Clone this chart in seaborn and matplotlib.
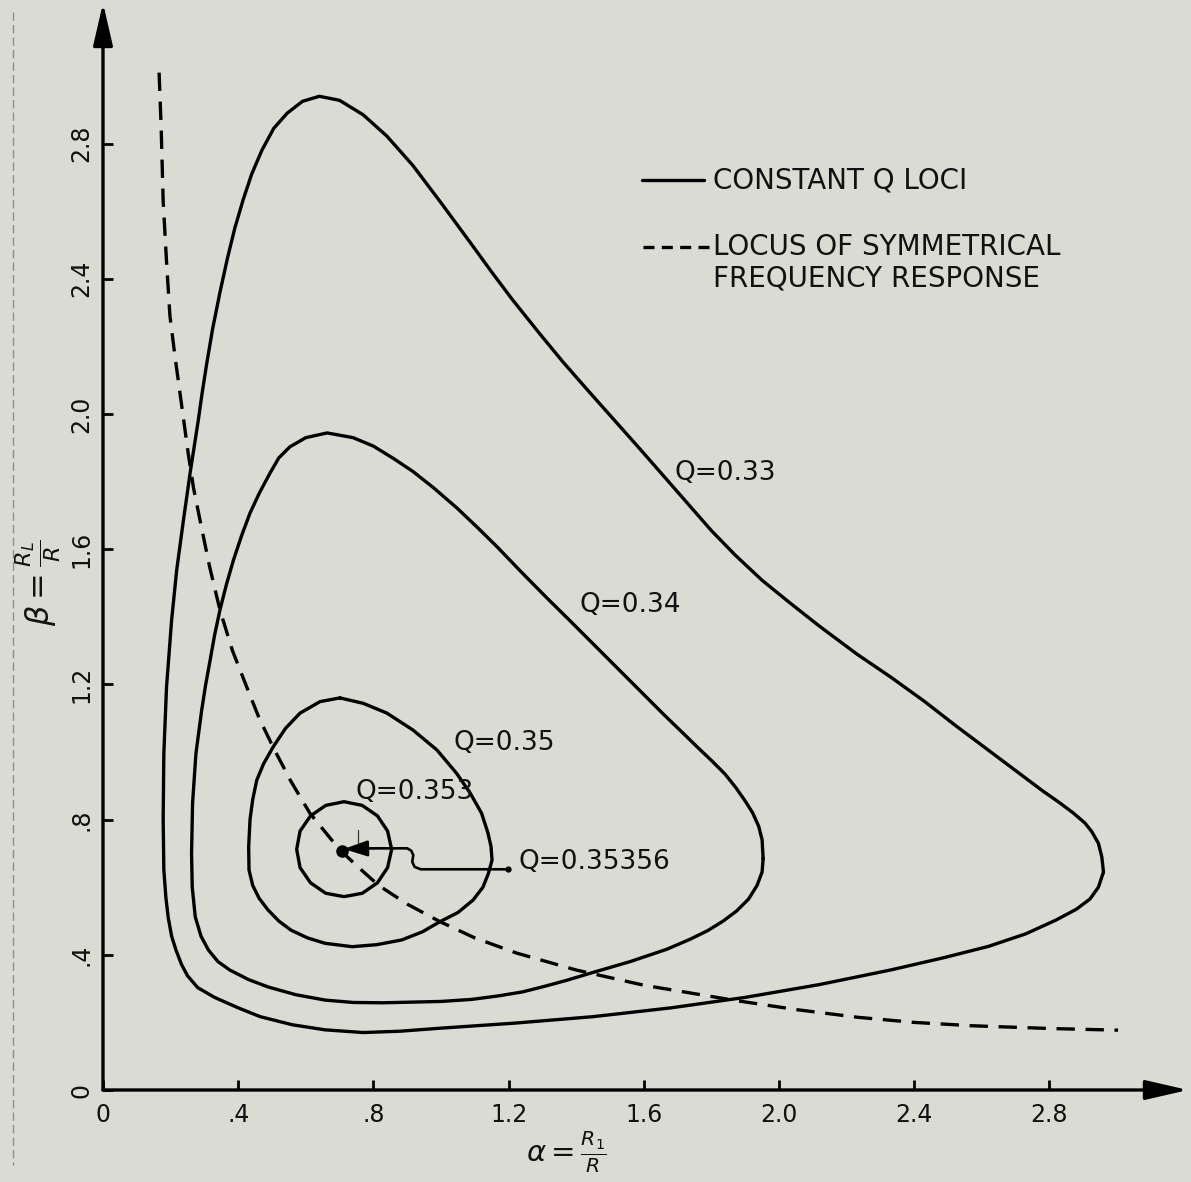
import numpy as np
import pandas as pd
import matplotlib
matplotlib.use("Agg")
import matplotlib.pyplot as plt
import seaborn as sns
from matplotlib.lines import Line2D

# ---------------- data ----------------
q033_alpha = [2.96, 2.955, 2.945, 2.925, 2.905, 2.87, 2.83, 2.78, 2.70, 2.62, 2.52, 2.43, 2.33, 2.23,
              2.12, 2.03, 1.95, 1.87, 1.80, 1.73, 1.66, 1.59, 1.51, 1.43, 1.36, 1.29, 1.21, 1.15,
              1.086, 1.00, 0.917, 0.84, 0.77, 0.70, 0.64, 0.59, 0.545, 0.505, 0.47, 0.44, 0.415,
              0.39, 0.368, 0.346, 0.324, 0.307, 0.293, 0.282, 0.259, 0.238, 0.218, 0.203, 0.188,
              0.180, 0.178, 0.18, 0.186, 0.193, 0.203, 0.216, 0.232, 0.25, 0.28, 0.33, 0.40, 0.465,
              0.56, 0.657, 0.77, 0.88, 1.00, 1.22, 1.45, 1.68, 1.90, 2.12, 2.33, 2.49, 2.62, 2.73,
              2.82, 2.88, 2.92, 2.945, 2.96]
q033_beta = [0.645, 0.69, 0.73, 0.765, 0.79, 0.82, 0.85, 0.885, 0.945, 1.005, 1.08, 1.15, 1.222, 1.29,
             1.372, 1.443, 1.508, 1.583, 1.655, 1.735, 1.815, 1.895, 1.985, 2.075, 2.155, 2.24, 2.34,
             2.42, 2.508, 2.625, 2.735, 2.822, 2.885, 2.928, 2.94, 2.925, 2.89, 2.845, 2.78, 2.71,
             2.635, 2.55, 2.46, 2.36, 2.25, 2.15, 2.06, 1.982, 1.834, 1.686, 1.538, 1.39, 1.193,
             0.996, 0.80, 0.651, 0.57, 0.51, 0.455, 0.414, 0.372, 0.338, 0.303, 0.274, 0.243, 0.217,
             0.193, 0.178, 0.170, 0.174, 0.183, 0.198, 0.217, 0.243, 0.274, 0.312, 0.355, 0.392,
             0.425, 0.462, 0.503, 0.535, 0.565, 0.60, 0.645]

q034_alpha = [1.953, 1.95, 1.94, 1.922, 1.90, 1.872, 1.84, 1.80, 1.76, 1.72, 1.66, 1.59, 1.52, 1.45,
              1.38, 1.314, 1.24, 1.166, 1.105, 1.047, 0.98, 0.917, 0.86, 0.80, 0.74, 0.663, 0.60,
              0.553, 0.52, 0.494, 0.462, 0.435, 0.41, 0.386, 0.365, 0.346, 0.33, 0.317, 0.303, 0.292,
              0.275, 0.265, 0.262, 0.264, 0.273, 0.29, 0.312, 0.34, 0.375, 0.43, 0.488, 0.57, 0.657,
              0.74, 0.827, 1.00, 1.09, 1.167, 1.24, 1.30, 1.37, 1.44, 1.56, 1.667, 1.737, 1.79,
              1.835, 1.875, 1.91, 1.935, 1.95, 1.953]
q034_beta = [0.685, 0.74, 0.78, 0.82, 0.855, 0.895, 0.935, 0.975, 1.013, 1.052, 1.11, 1.18, 1.25,
             1.32, 1.39, 1.455, 1.53, 1.607, 1.667, 1.722, 1.78, 1.83, 1.868, 1.905, 1.93, 1.944,
             1.93, 1.903, 1.87, 1.825, 1.765, 1.707, 1.64, 1.568, 1.495, 1.42, 1.345, 1.272, 1.195,
             1.124, 0.996, 0.849, 0.70, 0.60, 0.512, 0.455, 0.414, 0.38, 0.355, 0.327, 0.305, 0.282,
             0.266, 0.259, 0.258, 0.262, 0.268, 0.278, 0.29, 0.305, 0.324, 0.345, 0.38, 0.416,
             0.446, 0.472, 0.50, 0.53, 0.565, 0.605, 0.645, 0.685]

q035_alpha = [0.701, 0.642, 0.583, 0.54, 0.504, 0.475, 0.455, 0.443, 0.435, 0.431, 0.432, 0.443,
              0.462, 0.488, 0.52, 0.556, 0.605, 0.657, 0.737, 0.81, 0.884, 0.945, 0.997, 1.05, 1.095,
              1.124, 1.14, 1.151, 1.148, 1.139, 1.12, 1.086, 1.046, 0.988, 0.917, 0.84, 0.77, 0.701]
q035_beta = [1.160, 1.149, 1.115, 1.07, 1.016, 0.965, 0.917, 0.86, 0.80, 0.72, 0.651, 0.605,
             0.567, 0.533, 0.50, 0.473, 0.45, 0.434, 0.424, 0.43, 0.444, 0.468, 0.498, 0.525, 0.562,
             0.60, 0.64, 0.68, 0.72, 0.76, 0.819, 0.879, 0.937, 1.006, 1.065, 1.115, 1.144, 1.160]

q0353_alpha = [0.854, 0.842, 0.812, 0.767, 0.713, 0.659, 0.614, 0.583, 0.573, 0.583, 0.614, 0.659,
               0.713, 0.767, 0.812, 0.842, 0.854]
q0353_beta = [0.712, 0.766, 0.811, 0.842, 0.853, 0.842, 0.811, 0.766, 0.712, 0.658, 0.613, 0.582,
              0.572, 0.582, 0.613, 0.658, 0.712]

sym_alpha = [0.166, 0.172, 0.178, 0.188, 0.198, 0.213, 0.228, 0.252, 0.268, 0.287, 0.315, 0.346, 0.383,
             0.425, 0.462, 0.504, 0.555, 0.612, 0.66, 0.701, 0.76, 0.816, 0.90, 0.997, 1.10, 1.224,
             1.40, 1.60, 1.87, 2.05, 2.234, 2.40, 2.573, 2.80, 3.003]
sym_beta = [3.01, 2.85, 2.63, 2.45, 2.29, 2.17, 2.06, 1.884, 1.78, 1.686, 1.55, 1.42, 1.30,
            1.193, 1.10, 1.013, 0.915, 0.819, 0.76, 0.71, 0.655, 0.605, 0.55, 0.498, 0.45, 0.405,
            0.355, 0.31, 0.265, 0.238, 0.215, 0.20, 0.19, 0.182, 0.177]

# peak point Q = 0.35356 and its leader line
peak_alpha = [0.707]
peak_beta = [0.707]
leader_alpha = [1.199, 0.94, 0.922, 0.915, 0.918, 0.912, 0.90, 0.80]
leader_beta = [0.653, 0.653, 0.66, 0.675, 0.695, 0.708, 0.715, 0.715]

curve_names = ["Q=0.33", "Q=0.34", "Q=0.35", "Q=0.353"]
label_text = ["Q=0.33", "Q=0.34", "Q=0.35", "Q=0.353", "Q=0.35356"]
label_alpha = [1.692, 1.411, 1.036, 0.746, 1.228]
label_beta = [1.825, 1.435, 1.027, 0.882, 0.675]

tick_vals = [0, 0.4, 0.8, 1.2, 1.6, 2.0, 2.4, 2.8]
tick_labels = ["0", ".4", ".8", "1.2", "1.6", "2.0", "2.4", "2.8"]

# ---------------- figure ----------------
sns.set_theme(style="white")
plt.rcParams["font.family"] = ["DejaVu Sans"]
plt.rcParams["mathtext.fontset"] = "dejavusans"
BG = "#dadcd3"
INK = "#111111"
W, H = 1191, 1182

fig = plt.figure(figsize=(W / 100, H / 100), dpi=100, facecolor=BG)
ax = fig.add_axes([103 / W, 92 / H, 3.21 * 338 / W, 3.2 * 338 / H])
ax.set_facecolor(BG)
ax.set_xlim(0, 3.21)
ax.set_ylim(0, 3.2)

frames = []
for name, xs, ys in zip(curve_names,
                        [q033_alpha, q034_alpha, q035_alpha, q0353_alpha],
                        [q033_beta, q034_beta, q035_beta, q0353_beta]):
    frames.append(pd.DataFrame({"alpha": xs, "beta": ys, "curve": name}))
loci = pd.concat(frames, ignore_index=True)

sns.lineplot(data=loci, x="alpha", y="beta", units="curve", estimator=None, sort=False,
             color="black", lw=2.4, ax=ax, legend=False, solid_joinstyle="round",
             solid_capstyle="round")
sns.lineplot(x=sym_alpha, y=sym_beta, sort=False, estimator=None, color="black", lw=2.4,
             linestyle=(0, (5.5, 3.2)), ax=ax)

# peak point and leader
ax.plot(leader_alpha, leader_beta, color="black", lw=1.9, solid_joinstyle="round")
ax.annotate("", xy=(peak_alpha[0] + 0.005, 0.713), xytext=(leader_alpha[-1], leader_beta[-1]),
            arrowprops=dict(arrowstyle="-|>,head_length=0.9,head_width=0.3", lw=1.9,
                            color="black", mutation_scale=16, shrinkA=0, shrinkB=0))
ax.plot(peak_alpha, peak_beta, "o", color="black", ms=8)
ax.plot([leader_alpha[0]], [leader_beta[0]], "o", color="black", ms=3.5)
ax.plot([0.754, 0.754], [0.722, 0.77], color="#333333", lw=0.9)

for t, xa, yb in zip(label_text, label_alpha, label_beta):
    ax.text(xa, yb, t, ha="left", va="center", fontsize=19, color=INK)

# axes with arrows
for s in ax.spines.values():
    s.set_visible(False)
arrow_kw = dict(arrowstyle="-|>,head_length=1.3,head_width=0.3", lw=2.4, color="black",
                mutation_scale=20, shrinkA=0, shrinkB=0)
ax.annotate("", xy=(1, 0), xycoords="axes fraction", xytext=(0, 0), textcoords="axes fraction",
            arrowprops=arrow_kw, annotation_clip=False)
ax.annotate("", xy=(0, 1.005), xycoords="axes fraction", xytext=(0, 0), textcoords="axes fraction",
            arrowprops=arrow_kw, annotation_clip=False)

ax.set_xticks(tick_vals)
ax.set_xticklabels(tick_labels)
ax.set_yticks(tick_vals)
ax.set_yticklabels(tick_labels, rotation=90, va="center")
ax.tick_params(axis="both", direction="in", length=7, width=2, color="black",
               labelsize=17, labelcolor=INK)
ax.tick_params(axis="x", pad=9)
ax.tick_params(axis="y", pad=7)
ax.tick_params(bottom=True, left=True)
ax.set_xlabel("")
ax.set_ylabel("")
ax.grid(False)

# axis titles
fig.text(38 / W, 1 - 583 / H, r"$\beta=\frac{R_L}{R}$", rotation=90, ha="center", va="center",
         fontsize=23, color=INK)
fig.text(566 / W, 1 - 1152 / H, r"$\alpha=\frac{R_1}{R}$", ha="center", va="center",
         fontsize=21, color=INK)

# legend
fig.add_artist(Line2D([642 / W, 704 / W], [1 - 180 / H] * 2, transform=fig.transFigure,
                      color="black", lw=2.4))
fig.text(713 / W, 1 - 181 / H, "CONSTANT Q LOCI", ha="left", va="center", fontsize=20,
         color=INK)
fig.add_artist(Line2D([643 / W, 709 / W], [1 - 247 / H] * 2, transform=fig.transFigure,
                      color="black", lw=2.4, linestyle=(0, (3.3, 2.2))))
fig.text(713 / W, 1 - 247 / H, "LOCUS OF SYMMETRICAL", ha="left", va="center", fontsize=20,
         color=INK)
fig.text(713 / W, 1 - 278 / H, "FREQUENCY RESPONSE", ha="left", va="center", fontsize=20,
         color=INK)

# scan border artefact at the far left
fig.add_artist(Line2D([13 / W, 13 / W], [1 - 12 / H, 1 - 1165 / H], transform=fig.transFigure,
                      color="#8e908a", lw=1.0, linestyle=(0, (6, 3))))

fig.savefig("out.png", dpi=100, facecolor=BG)
